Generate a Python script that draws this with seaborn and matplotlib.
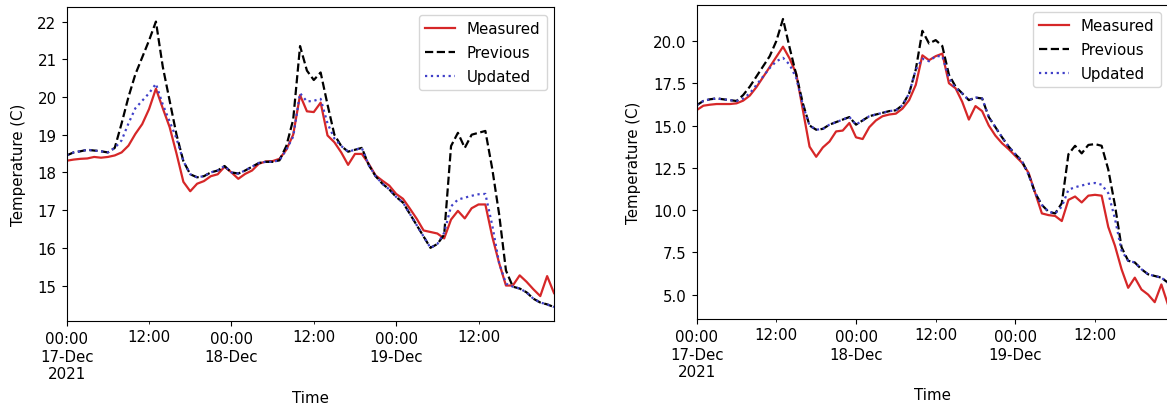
import matplotlib
matplotlib.use("Agg")
import matplotlib.pyplot as plt
import matplotlib.dates as mdates
from matplotlib.ticker import FuncFormatter
import numpy as np
import pandas as pd
import seaborn as sns

# Hourly timestamps, 17-Dec-2021 00:00 through 19-Dec-2021 23:00
times = pd.date_range("2021-12-17 00:00", periods=72, freq="h")

# Zone A (left panel)
zone_a_measured = [
    18.31, 18.34, 18.36, 18.37, 18.41, 18.39, 18.41, 18.45, 18.53, 18.71, 19.02, 19.28,
    19.68, 20.22, 19.70, 19.20, 18.50, 17.75, 17.50, 17.70, 17.77, 17.90, 17.95, 18.15,
    18.00, 17.83, 17.96, 18.05, 18.23, 18.29, 18.30, 18.36, 18.60, 19.00, 20.05, 19.62,
    19.60, 19.85, 18.98, 18.80, 18.53, 18.20, 18.49, 18.49, 18.23, 17.92, 17.78, 17.65,
    17.43, 17.30, 17.04, 16.77, 16.46, 16.42, 16.38, 16.25, 16.75, 16.98, 16.78, 17.05,
    17.15, 17.15, 16.30, 15.60, 15.00, 15.00, 15.27, 15.10, 14.90, 14.72, 15.25, 14.80,
]
zone_a_previous = [
    18.45, 18.53, 18.56, 18.60, 18.58, 18.56, 18.53, 18.65, 19.30, 20.00, 20.60, 21.05,
    21.50, 22.00, 20.80, 19.90, 19.00, 18.30, 17.95, 17.87, 17.90, 18.00, 18.05, 18.17,
    18.00, 17.97, 18.05, 18.15, 18.25, 18.28, 18.28, 18.32, 18.70, 19.40, 21.35, 20.70,
    20.45, 20.65, 19.80, 19.00, 18.70, 18.55, 18.60, 18.65, 18.20, 17.90, 17.70, 17.55,
    17.35, 17.20, 16.90, 16.60, 16.30, 16.00, 16.10, 16.35, 18.70, 19.05, 18.65, 19.00,
    19.05, 19.10, 18.10, 16.90, 15.40, 14.97, 14.92, 14.82, 14.65, 14.55, 14.50, 14.43,
]
zone_a_updated = [
    18.45, 18.53, 18.56, 18.60, 18.58, 18.56, 18.53, 18.65, 18.85, 19.30, 19.70, 19.90,
    20.10, 20.35, 19.80, 19.35, 18.90, 18.30, 17.95, 17.87, 17.90, 18.00, 18.05, 18.17,
    18.00, 17.97, 18.05, 18.15, 18.25, 18.28, 18.28, 18.32, 18.60, 18.95, 20.10, 19.88,
    19.90, 19.95, 19.30, 18.90, 18.70, 18.55, 18.60, 18.65, 18.20, 17.90, 17.70, 17.55,
    17.35, 17.20, 16.90, 16.60, 16.30, 16.00, 16.10, 16.40, 17.10, 17.28, 17.33, 17.38,
    17.42, 17.43, 16.60, 15.60, 15.05, 14.97, 14.92, 14.82, 14.65, 14.55, 14.50, 14.43,
]

# Zone B (right panel)
zone_b_measured = [
    15.91, 16.17, 16.23, 16.27, 16.27, 16.27, 16.31, 16.47, 16.77, 17.27, 17.86, 18.46,
    19.06, 19.66, 18.96, 18.05, 15.90, 13.75, 13.15, 13.70, 14.05, 14.65, 14.70, 15.15,
    14.30, 14.20, 14.90, 15.30, 15.55, 15.65, 15.70, 16.00, 16.50, 17.40, 19.15, 18.86,
    19.10, 19.25, 17.50, 17.20, 16.40, 15.35, 16.15, 15.85, 15.00, 14.40, 13.95, 13.60,
    13.20, 12.80, 12.20, 11.00, 9.80, 9.70, 9.65, 9.35, 10.60, 10.80, 10.45, 10.85,
    10.90, 10.85, 9.00, 7.90, 6.50, 5.40, 6.00, 5.30, 5.00, 4.55, 5.60, 4.40,
]
zone_b_previous = [
    16.20, 16.45, 16.55, 16.60, 16.55, 16.50, 16.45, 16.80, 17.30, 17.90, 18.50, 19.10,
    20.00, 21.30, 19.60, 18.00, 16.30, 15.00, 14.75, 14.80, 15.05, 15.20, 15.35, 15.50,
    15.05, 15.30, 15.55, 15.65, 15.75, 15.85, 15.90, 16.20, 16.90, 18.30, 20.60, 19.85,
    20.05, 19.70, 18.00, 17.30, 16.90, 16.50, 16.65, 16.60, 15.50, 14.90, 14.30, 13.75,
    13.30, 12.90, 12.10, 11.00, 10.30, 9.90, 9.80, 10.40, 13.30, 13.80, 13.35, 13.85,
    13.90, 13.80, 12.40, 10.30, 7.80, 7.00, 6.90, 6.50, 6.20, 6.10, 6.00, 5.70,
]
zone_b_updated = [
    16.20, 16.45, 16.55, 16.60, 16.55, 16.50, 16.45, 16.60, 16.90, 17.40, 17.90, 18.40,
    18.80, 19.00, 18.60, 17.80, 16.20, 15.00, 14.75, 14.80, 15.05, 15.20, 15.35, 15.50,
    15.05, 15.30, 15.55, 15.65, 15.75, 15.85, 15.90, 16.20, 16.90, 18.30, 18.95, 18.80,
    19.10, 19.10, 17.80, 17.20, 16.90, 16.50, 16.65, 16.60, 15.50, 14.90, 14.30, 13.75,
    13.30, 12.90, 12.10, 11.00, 10.30, 9.90, 9.80, 10.20, 11.20, 11.35, 11.45, 11.55,
    11.60, 11.50, 11.00, 9.50, 7.60, 7.00, 6.90, 6.50, 6.20, 6.10, 6.00, 5.70,
]

series_labels = ["Measured", "Previous", "Updated"]

plt.rcParams["font.family"] = ["DejaVu Sans"]
plt.rcParams["font.size"] = 10.8
plt.rcParams["xtick.major.size"] = 3.8
plt.rcParams["xtick.minor.size"] = 2.2
plt.rcParams["ytick.major.size"] = 3.8

W, H = 1167, 410
fig = plt.figure(figsize=(W / 100, H / 100), dpi=100)
fig.patch.set_facecolor("white")

ax_left = fig.add_axes([66.7 / W, (H - 322.3) / H, (554.0 - 66.7) / W, (322.3 - 8.3) / H])
ax_right = fig.add_axes([696.7 / W, (H - 320.0) / H, (1168.0 - 696.7) / W, (320.0 - 5.7) / H])

styles = [
    dict(color="tab:red", linestyle="-"),
    dict(color="black", linestyle="--"),
    dict(color="#4040c8", linestyle=":"),
]


def major_label(x, pos):
    d = mdates.num2date(x)
    text = d.strftime("%H:%M\n%d-%b")
    if d.date() == times[0].date():
        text += d.strftime("\n%Y")
    return text


def minor_label(x, pos):
    return mdates.num2date(x).strftime("%H:%M")


panels = [
    (ax_left, [zone_a_measured, zone_a_previous, zone_a_updated]),
    (ax_right, [zone_b_measured, zone_b_previous, zone_b_updated]),
]

for ax, values in panels:
    for vals, lab, st in zip(values, series_labels, styles):
        sns.lineplot(x=times, y=np.asarray(vals), ax=ax, label=lab,
                     linewidth=1.6, **st)
    ax.set_xlim(times[0], times[-1])
    ax.xaxis.set_major_locator(mdates.HourLocator(byhour=[0]))
    ax.xaxis.set_minor_locator(mdates.HourLocator(byhour=[12]))
    ax.xaxis.set_major_formatter(FuncFormatter(major_label))
    ax.xaxis.set_minor_formatter(FuncFormatter(minor_label))
    for lbl in ax.get_xticklabels(which="both"):
        lbl.set_horizontalalignment("center")
    ax.set_xlabel("Time", labelpad=6)
    ax.set_ylabel("Temperature (C)", labelpad=8.5)
    ax.legend(loc="upper right", labelspacing=0.6)
    ax.set_facecolor("white")

fig.savefig("out.png", dpi=100, facecolor="white")
